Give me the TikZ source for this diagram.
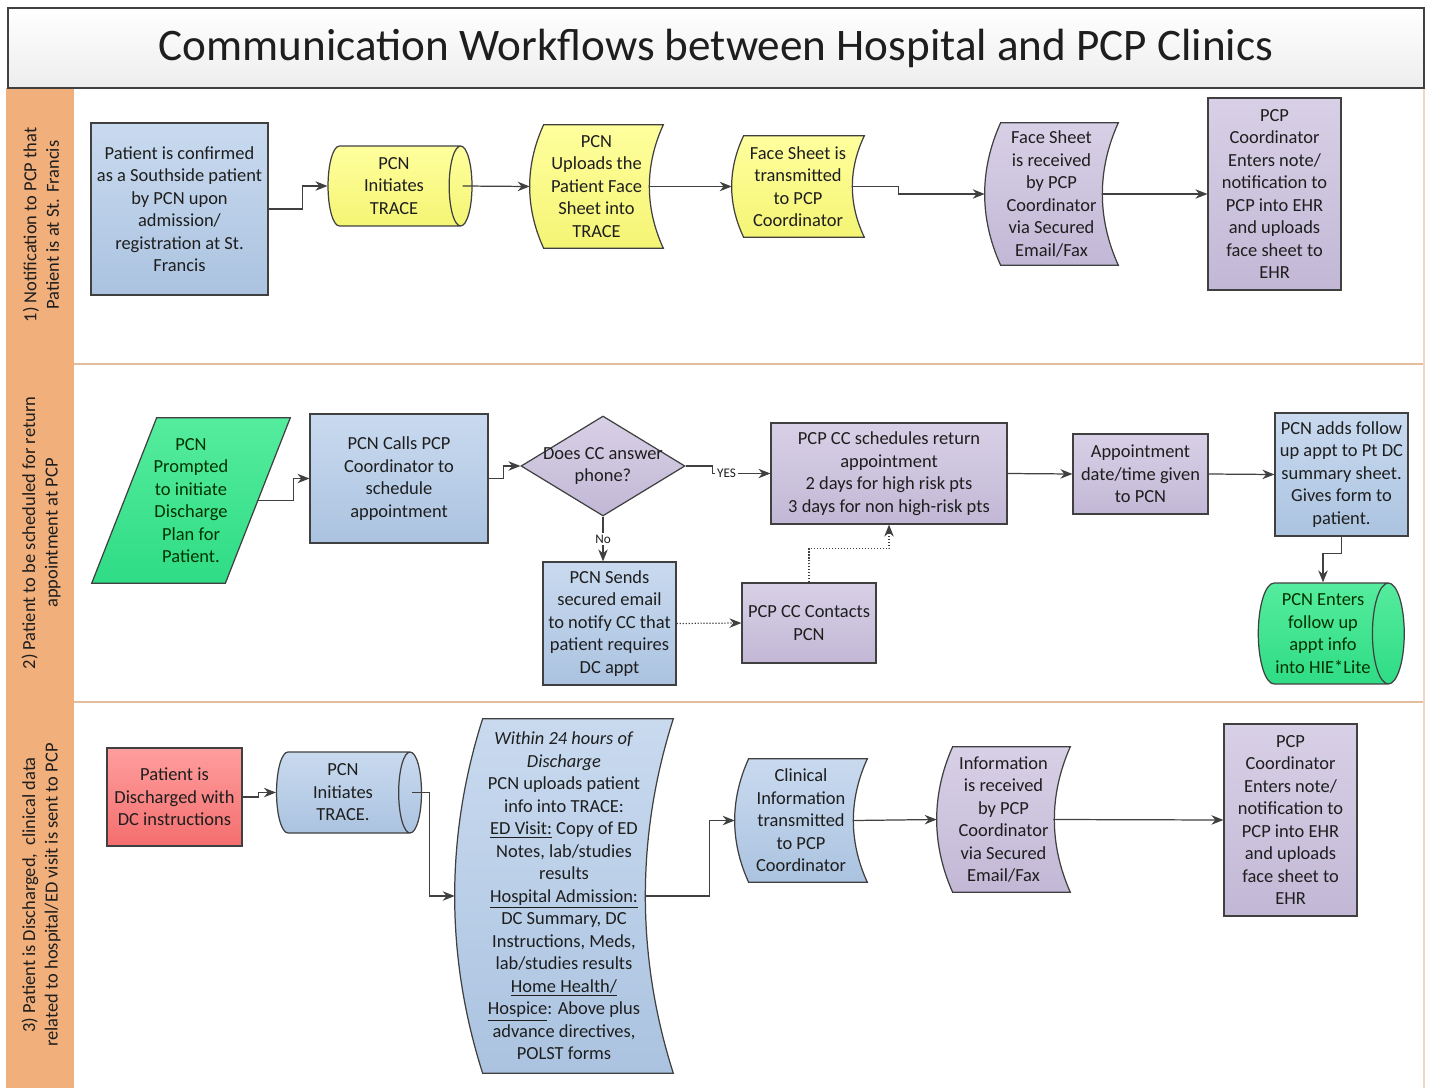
\documentclass[tikz,border=0pt]{standalone}
\usepackage{fontspec}
\setmainfont{Carlito}
\usepackage{tikz}
\usetikzlibrary{shapes,arrows.meta,positioning,calc,backgrounds}

\definecolor{linegray}{HTML}{404040}
\definecolor{textgray}{HTML}{1E1E1E}
\definecolor{bandorange}{HTML}{F1AF7B}
\definecolor{laneline}{HTML}{E2BE9E}
\definecolor{bluetop}{HTML}{C9DAEF}
\definecolor{bluebot}{HTML}{ABC3E0}
\definecolor{purpletop}{HTML}{D8D0E6}
\definecolor{purplebot}{HTML}{C2B8D6}
\definecolor{yellowtop}{HTML}{FFFF9E}
\definecolor{yellowbot}{HTML}{F4F474}
\definecolor{greentop}{HTML}{55EC9E}
\definecolor{greenbot}{HTML}{2FDC85}
\definecolor{redtop}{HTML}{FF9E9E}
\definecolor{redbot}{HTML}{F46E6E}

\newcommand{\bodysize}{\fontsize{10.5}{12.8}\selectfont}

% stored-data outline under a plain node: node, fill style, curve depth
\newcommand{\storeddata}[3]{%
  \draw[#2, draw=linegray, line width=0.7pt]
    ($(#1.north west)+(#3,0)$) -- (#1.north east)
    .. controls ($(#1.north east)!0.33!(#1.south east)+(-#3*4/3,0)$)
    and ($(#1.north east)!0.67!(#1.south east)+(-#3*4/3,0)$) .. (#1.south east)
    -- ($(#1.south west)+(#3,0)$)
    .. controls ($(#1.north west)!0.67!(#1.south west)+(-#3/3,0)$)
    and ($(#1.north west)!0.33!(#1.south west)+(-#3/3,0)$) .. ($(#1.north west)+(#3,0)$)
    -- cycle;}

\tikzset{
  bluefill/.style={top color=bluetop, bottom color=bluebot},
  purplefill/.style={top color=purpletop, bottom color=purplebot},
  yellowfill/.style={top color=yellowtop, bottom color=yellowbot},
  greenfill/.style={top color=greentop, bottom color=greenbot},
  redfill/.style={top color=redtop, bottom color=redbot},
  box/.style={rectangle, draw=linegray, line width=0.7pt, align=center, inner sep=1pt},
  plain/.style={rectangle, align=center, inner sep=0pt},
  drum/.style={cylinder, draw=linegray, line width=0.7pt, aspect=0.4, align=center, inner sep=0pt},
  flow/.style={draw=linegray, line width=0.7pt, -{Stealth[length=2.4mm, width=1.9mm]}},
  dotflow/.style={flow, densely dotted},
  tag/.style={fill=white, inner sep=1pt, font=\fontsize{7.5}{9}\selectfont}
}

\begin{document}
\begin{tikzpicture}[x=0.02cm, y=-0.02cm, every node/.style={font=\bodysize, text=textgray}]
\useasboundingbox (0,0) rectangle (1430,1088);

% lanes
\begin{scope}[on background layer]
\fill[bandorange] (6,88) rectangle (74,1088);
\draw[laneline, line width=1.2pt] (74,364) -- (1424,364);
\draw[laneline, line width=1.2pt] (74,702) -- (1424,702);
\draw[laneline!60, line width=1pt] (1424,88) -- (1424,1088);
\end{scope}

\node[rectangle, draw=linegray, line width=0.8pt, top color=white, bottom color=black!7, minimum width=28.32cm, minimum height=1.6cm, font=\fontsize{25.7}{30}\selectfont] (title) at (716,48) {Communication Workflows between Hospital and PCP Clinics};

\node[rotate=90, align=center] (lane1) at (41,225) {1) Notification to PCP that\\Patient is at St. Francis};
\node[rotate=90, align=center] (lane2) at (41,533) {2) Patient to be scheduled for return\\appointment at PCP};
\node[rotate=90, align=center] (lane3) at (41,895) {3) Patient is Discharged,~ clinical data\\related to hospital/ED visit is sent to PCP};

% lane 1
\node[box, bluefill, minimum width=3.54cm, minimum height=3.44cm] (confirm) at (179.5,209) {Patient is confirmed\\as a Southside patient\\by PCN upon\\admission/\\registration at St.\\Francis};
\node[drum, yellowfill, minimum height=2.88cm, minimum width=1.6cm] (trace1) at (394,186) {PCN\\Initiates\\TRACE};
\node[plain, minimum width=2.66cm, minimum height=2.46cm] (upload) at (596.5,186.5) {PCN\\Uploads the\\Patient Face\\Sheet into\\TRACE};
\node[plain, minimum width=2.64cm, minimum height=2.02cm] (transmit) at (798,186.5) {Face Sheet is\\transmitted\\to PCP\\Coordinator};
\node[plain, minimum width=2.66cm, minimum height=2.84cm] (received) at (1051.5,194) {Face Sheet\\is received\\by PCP\\Coordinator\\via Secured\\Email/Fax};
\node[box, purplefill, minimum width=2.66cm, minimum height=3.84cm] (enters) at (1274.5,194) {PCP\\Coordinator\\Enters note/\\notification to\\PCP into EHR\\and uploads\\face sheet to\\EHR};

% lane 2
\node[plain, minimum width=3.96cm, minimum height=3.3cm, text=black!80!green] (prompt) at (191,500.5) {PCN\\Prompted\\to initiate\\Discharge\\Plan for\\Patient.};
\node[box, bluefill, minimum width=3.56cm, minimum height=2.58cm] (calls) at (399,478.5) {PCN Calls PCP\\Coordinator to\\schedule\\appointment};
\node[diamond, draw=linegray, line width=0.7pt, purplefill, minimum width=3.28cm, minimum height=2cm, inner sep=0pt] (answer) at (603,466) {};
\node[align=center] (answerlbl) at (answer.center) {Does CC answer\\phone?};
\node[box, purplefill, minimum width=4.72cm, minimum height=2.02cm] (schedule) at (889,473.5) {PCP CC schedules return\\appointment\\2 days for high risk pts\\3 days for non high-risk pts};
\node[box, bluefill, minimum width=2.66cm, minimum height=2.46cm] (sends) at (609.5,623.5) {PCN Sends\\secured email\\to notify CC that\\patient requires\\DC appt};
\node[box, purplefill, minimum width=2.68cm, minimum height=1.6cm] (contacts) at (809,623) {PCP CC Contacts\\PCN};
\node[box, purplefill, minimum width=2.7cm, minimum height=1.6cm] (given) at (1140.5,474) {Appointment\\date/time given\\to PCN};
\node[box, bluefill, minimum width=2.66cm, minimum height=2.46cm] (adds) at (1341.5,474.5) {PCN adds follow\\up appt to Pt DC\\summary sheet.\\Gives form to\\patient.};
\node[drum, greenfill, minimum height=2.92cm, minimum width=2.02cm, text=black!80!green] (hie) at (1323,633.5) {PCN Enters\\follow up\\appt info\\into HIE*Lite};

% lane 3
\node[box, redfill, minimum width=2.7cm, minimum height=1.96cm] (discharged) at (174.5,797) {Patient is\\Discharged with\\DC instructions};
\node[drum, bluefill, minimum height=2.9cm, minimum width=1.62cm] (trace2) at (343,792.5) {PCN\\Initiates\\TRACE.};
\node[plain, minimum width=4.36cm, minimum height=7.08cm] (within) at (564,896) {\textit{Within 24 hours of}\\\textit{Discharge}\\PCN uploads patient\\info into TRACE:\\\underline{ED Visit:} Copy of ED\\Notes, lab/studies\\results\\\underline{Hospital Admission:}\\DC Summary, DC\\Instructions, Meds,\\lab/studies results\\\underline{Home Health/}\\\underline{Hospice}: Above plus\\advance directives,\\POLST forms};
\node[plain, minimum width=2.64cm, minimum height=2.46cm] (clinical) at (801,820.5) {Clinical\\Information\\transmitted\\to PCP\\Coordinator};
\node[plain, minimum width=2.66cm, minimum height=2.9cm] (inforec) at (1003.5,819.5) {Information\\is received\\by PCP\\Coordinator\\via Secured\\Email/Fax};
\node[box, purplefill, minimum width=2.66cm, minimum height=3.84cm] (enters2) at (1290.5,820) {PCP\\Coordinator\\Enters note/\\notification to\\PCP into EHR\\and uploads\\face sheet to\\EHR};

% outlines for the drawn shapes
\begin{scope}[on background layer]
\storeddata{upload}{yellowfill}{14}
\storeddata{transmit}{yellowfill}{12}
\storeddata{received}{purplefill}{16}
\storeddata{within}{bluefill}{28}
\storeddata{clinical}{bluefill}{14}
\storeddata{inforec}{purplefill}{16}
\draw[greenfill, draw=linegray, line width=0.7pt] ($(prompt.north west)+(65,0)$) -- (prompt.north east) -- ($(prompt.south east)+(-65,0)$) -- (prompt.south west) -- cycle;
\end{scope}

% connectors
\draw[flow] (confirm.east) -- ++(34,0) |- (trace1.west);
\draw[flow] ([xshift=-0.2cm]trace1.east) -- (upload.west);
\draw[flow] ([xshift=-0.28cm]upload.east) -- (transmit.west);
\draw[flow] ([xshift=-0.24cm]transmit.east) -- ++(46,0) |- (received.west);
\draw[flow] ([xshift=-0.32cm]received.east) -- (enters.west);

\draw[flow] ($(prompt.east)+(-33,0)$) -- ++(36,0) |- (calls.west);
\draw[flow] (calls.east) -- ++(15,0) |- (answer.west);
\draw[flow] (answer.east) -- ++(27,0) |- node[tag, pos=0.62] (yes) {YES} (schedule.west);
\draw[flow] (answer.south) -- node[tag] (no) {No} (answer.south |- sends.north);
\draw[dotflow] (sends.east) -- (contacts.west);
\draw[dotflow] (contacts.north) -- ++(0,-34) -| (schedule.south);
\draw[flow] (schedule.east) -- (given.west);
\draw[flow] (given.east) -- (adds.west);
\draw[flow] (adds.south) -- ++(0,17) -| (hie.north);

\draw[flow] (discharged.east) -- ++(16,0) |- (trace2.west);
\draw[flow] ([xshift=-0.2cm]trace2.east) -- ++(17,0) |- (within.west);
\draw[flow] ([xshift=-0.56cm]within.east) -- ++(64,0) |- (clinical.west);
\draw[flow] ([xshift=-0.28cm]clinical.east) -- (inforec.west);
\draw[flow] ([xshift=-0.34cm]inforec.east) -- (enters2.west);
\end{tikzpicture}
\end{document}
